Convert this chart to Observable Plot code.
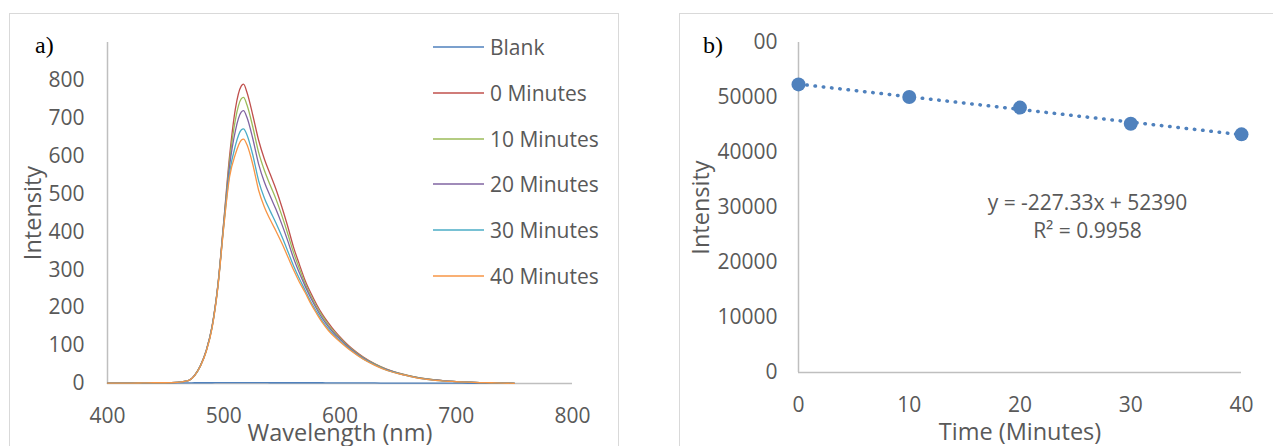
<!DOCTYPE html>
<html><head><meta charset="utf-8">
<script src="https://cdn.jsdelivr.net/npm/d3@7"></script>
<script src="https://cdn.jsdelivr.net/npm/@observablehq/plot@0.6"></script>
<style>
body{margin:0;background:#fff;}
#root{position:relative;width:1273px;height:446px;overflow:hidden;background:#fff;font-family:"Open Sans",sans-serif;}
.frame{position:absolute;border:1.5px solid #d9d9d9;box-sizing:border-box;}
.panel{position:absolute;top:0;}
.tag{position:absolute;background:#fff;font-family:"Liberation Serif",serif;font-size:24px;color:#000;line-height:32px;height:32px;box-sizing:border-box;}
.leg{position:absolute;font-family:"Open Sans",sans-serif;font-size:21px;color:#595959;line-height:24px;white-space:nowrap;}
.leg svg{vertical-align:top;}
</style></head>
<body><div id="root"></div>
<script>
// ---------- Panel a: emission spectra ----------
const wavelengths = [400,410,420,430,440,450,460,465,470,475,480,485,490,495,500,505,510,515,517,520,525,530,535,540,545,550,555,560,565,570,575,580,585,590,595,600,605,610,620,630,640,650,660,670,680,690,700,710,720,730,740,750];
const seriesNames = ["Blank","0 Minutes","10 Minutes","20 Minutes","30 Minutes","40 Minutes"];
const seriesColors = ["#4F81BD","#C0504D","#9BBB59","#8064A2","#4BACC6","#F79646"];
const blank = [1,1,1,1,1,1.5,1.5,1.5,1.5,2,2,2,2,2.5,2.5,2.5,2.5,2.5,2.5,2.5,2.5,2.5,2.5,2,2,2,2,2,2,2,2,2,2,1.5,1.5,1.5,1.5,1.5,1.5,1.5,1,1,1,1,1,1,1,0.5,0.5,0.5,0.5,0.5];
const min0  = [1,1,1,1.5,2,2,3,5,8,22,48,88,152,262,428,600,725,785,790,768,708,642,592,552,512,466,415,360,315,272,238,208,182,160,140,123,107,93,70,52,38,28,20,14,10,7,5,3.5,2.5,2,1,0.5];
const min10 = [1,1,1,1.5,2,2,3,5,8,22,47.5,87.5,151,260.5,424,587,696,751,755,735,677,610,562,523,486,443,396,346,304,264,231,202,177,155,136,120,104.5,91,68.5,51,37.5,27.5,20,14,10,7,5,3.5,2.5,2,1,0.5];
const min20 = [1,1,1,1.5,2,2,3,5,8,21.5,47,87,150,259,421,574,667,716,720,702,646,579,531,494,459,420,377,331,292,257,225,196.5,171,150,132,117,102,89,67,50,36.5,27,19.5,13.5,9.5,7,5,3.5,2.5,2,1,0.5];
const min30 = [1,1,1,1.5,2,2,3,5,8,21,46.5,86,148.5,257,416,555,628,669,672,656,603,535,489,455,423,388,350,311,277,246,215,189,164,144,127,112.5,99,86.5,65,49,35.5,26.5,19,13,9,6.5,5,3.5,2.5,2,1,0.5];
const min40 = [1,1,1,1.5,2,2,3,5,8,21,46,85,147,255,413,545,605,642,645,630,578,510,465,432,402,370,335,300,268,240,210,184,160,140,124,110,97,85,64,48,35,26,19,13,9,6.5,5,3.5,2.5,2,1,0.5];
const seriesValues = [blank,min0,min10,min20,min30,min40];
const wavelengthTicks = [400,500,600,700,800];
const spectrumTicks = [0,100,200,300,400,500,600,700,800];

// ---------- Panel b: intensity vs time ----------
const times = [0,10,20,30,40];
const intensities = [52380,50090,48160,45230,43300];
const timeTicks = [0,10,20,30,40];
const intensityTicks = [0,10000,20000,30000,40000,50000,60000];
const equationText = "y = -227.33x + 52390\nR\u00B2 = 0.9958";

const rows = [];
seriesNames.forEach((name,i) => wavelengths.forEach((w,j) => rows.push({series:name, wavelength:w, intensity:seriesValues[i][j]})));
const pts = times.map((t,i) => ({time:t, intensity:intensities[i]}));

const baseStyle = {background:"transparent", fontFamily:"Open Sans", fontSize:"21px", color:"#595959", overflow:"visible"};
const axisGray = "#bfbfbf";
const titleOpts = {text:d=>d, textAnchor:"middle", lineAnchor:"middle", fontSize:23.5, fill:"#595959"};

const plotA = Plot.plot({
  width:640, height:446, marginLeft:107, marginRight:68, marginTop:42, marginBottom:63,
  style: baseStyle,
  x:{domain:[400,800], ticks:wavelengthTicks, tickSize:0, tickPadding:25, label:null},
  y:{domain:[0,900], ticks:spectrumTicks, tickSize:0, tickPadding:23, label:null},
  color:{domain:seriesNames, range:seriesColors},
  marks:[
    Plot.ruleY([0], {stroke:axisGray, strokeWidth:1.5}),
    Plot.ruleX([400], {stroke:axisGray, strokeWidth:1.5}),
    Plot.line(rows, {x:"wavelength", y:"intensity", z:"series", stroke:"series", strokeWidth:1.3, curve:"monotone-x"}),
    Plot.text(["Intensity"], {...titleOpts, frameAnchor:"left", dx:-74, rotate:-90}),
    Plot.text(["Wavelength (nm)"], {...titleOpts, frameAnchor:"bottom", dy:49.5})
  ]
});

const plotB = Plot.plot({
  width:633, height:446, marginLeft:158, marginRight:32, marginTop:42, marginBottom:74,
  style: baseStyle,
  x:{domain:[0,40], ticks:timeTicks, tickSize:0, tickPadding:25, label:null},
  y:{domain:[0,60000], ticks:intensityTicks, tickSize:0, tickPadding:21, label:null, tickFormat:d3.format("d")},
  marks:[
    Plot.ruleY([0], {stroke:axisGray, strokeWidth:1.5}),
    Plot.ruleX([0], {stroke:axisGray, strokeWidth:1.5}),
    Plot.linearRegressionY(pts, {x:"time", y:"intensity", ci:0, stroke:"#4F81BD", strokeWidth:3.5, strokeDasharray:"0.5 7.8", strokeLinecap:"round"}),
    Plot.dot(pts, {x:"time", y:"intensity", r:7, fill:"#4F81BD", stroke:"none"}),
    Plot.text([equationText], {text:d=>d, textAnchor:"middle", lineAnchor:"middle", frameAnchor:"middle", dx:67.5, dy:7.5, lineHeight:1.35, fontSize:21, fill:"#595959"}),
    Plot.text(["Intensity"], {...titleOpts, frameAnchor:"left", dx:-97, rotate:-90}),
    Plot.text(["Time (Minutes)"], {...titleOpts, frameAnchor:"bottom", dy:59.5})
  ]
});

const root = document.getElementById("root");
function add(html){ const d=document.createElement("div"); d.innerHTML=html; const el=d.firstElementChild; root.appendChild(el); return el; }
add('<div class="frame" style="left:9px;top:13px;width:610px;height:520px"></div>');
add('<div class="frame" style="left:679px;top:13px;width:700px;height:520px"></div>');
const pa = add('<div class="panel" style="left:0px"></div>'); pa.appendChild(plotA);
const pb = add('<div class="panel" style="left:640px"></div>'); pb.appendChild(plotB);
add('<div class="tag" style="left:30px;top:29px;width:60px;padding-left:5px">a)</div>');
add('<div class="tag" style="left:697px;top:29px;width:57px;padding-left:6px">b)</div>');
seriesNames.forEach((name,i) => {
  const top = 47 + i*45.8 - 12;
  add('<div class="leg" style="left:433px;top:'+top+'px"><svg width="51" height="24"><line x1="0" x2="51" y1="12" y2="12" stroke="'+seriesColors[i]+'" stroke-width="1.5"/></svg><span style="margin-left:6px">'+name+'</span></div>');
});
</script>
</body></html>
